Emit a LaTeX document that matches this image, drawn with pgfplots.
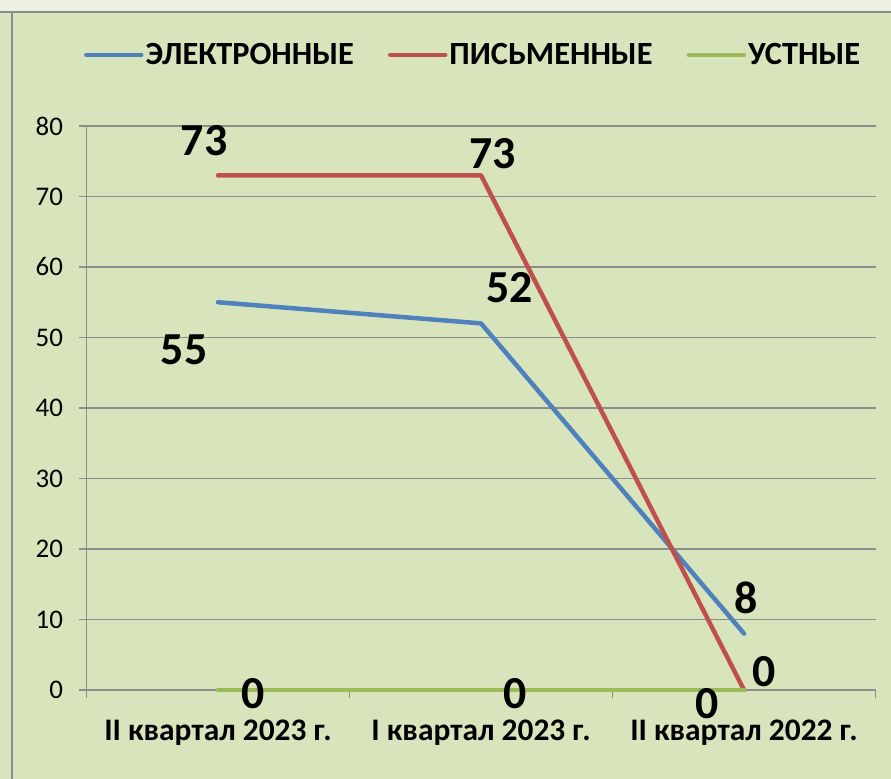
\documentclass[border=0pt]{standalone}
\usepackage{fontspec}
\setmainfont{Carlito}
\usepackage{pgfplots}
\usepackage{pgfplotstable}
\pgfplotsset{compat=1.18}
\definecolor{bg}{HTML}{D8E4BC}
\definecolor{topbg}{HTML}{EEF1E2}
\definecolor{gridgray}{HTML}{8C8C8C}
\definecolor{cblue}{HTML}{4F81BD}
\definecolor{cred}{HTML}{C0504D}
\definecolor{cgreen}{HTML}{9BBB59}
\pgfplotstableread{
x y dx dy
0 55 -34 -48
1 52 29 36
2 8 2 36
}\elec
\pgfplotstableread{
x y dx dy
0 73 -14 35
1 73 12 22
2 0 20 18
}\pism
\pgfplotstableread{
x y dx dy
0 0 35 -4
1 0 34 -4
2 0 -37 -14
}\ust
\pgfplotsset{lbl/.style={
  nodes near coords, point meta=explicit symbolic,
  visualization depends on={\thisrow{dx}\as\dx},
  visualization depends on={\thisrow{dy}\as\dy},
  nodes near coords style={anchor=center, xshift=\dx, yshift=\dy,
     font=\fontsize{46}{50}\selectfont\bfseries, text=black}}}
\begin{document}
\begin{tikzpicture}[x=1bp,y=1bp]
\useasboundingbox (0,0) rectangle (891,779);
\fill[topbg] (0,0) rectangle (891,779);
\fill[bg] (0,0) rectangle (891,767);
\draw[gridgray, line width=1.5bp] (0,767) -- (891,767);
\draw[gridgray, line width=1.5bp] (12,0) -- (12,767);
\begin{axis}[
  at={(86.5bp,89bp)}, anchor=south west,
  scale only axis, width=789bp, height=564bp,
  xmin=-0.5, xmax=2.5, ymin=0, ymax=80,
  axis x line=bottom, axis y line=left,
  axis line style={draw=gridgray, line width=1.5bp, -},
  ytick={0,10,...,80},
  ymajorgrids, grid style={draw=gridgray, line width=1.5bp},
  xtick={-0.5,0.5,1.5,2.5}, xticklabels={},
  extra x ticks={0,1,2},
  extra x tick labels={II квартал 2023 г., I квартал 2023 г., II квартал 2022 г.},
  extra x tick style={major tick length=0pt, grid=none,
     xticklabel style={font=\fontsize{31.5}{34}\selectfont\bfseries, yshift=-26bp}},
  tick align=outside, major tick length=8bp,
  tick style={draw=gridgray, line width=1.5bp},
  yticklabel style={font=\fontsize{27}{30}\selectfont, xshift=-12bp},
  /pgf/number format/assume math mode=true,
  legend columns=3,
  legend style={draw=none, fill=none, at={(0.4900,1.126)}, anchor=center,
     font=\fontsize{32.5}{36}\selectfont\bfseries,
     /tikz/every even column/.append style={column sep=32bp},
     nodes={inner xsep=2bp}},
  legend image code/.code={\draw[#1, line cap=round] (0bp,0bp) -- (55bp,0bp);},
  clip=false,
]
\addplot[cblue, line width=4.5bp, line cap=round, line join=round, lbl]
  table[x=x, y=y, meta=y] {\elec};
\addlegendentry{ЭЛЕКТРОННЫЕ}
\addplot[cred, line width=4.5bp, line cap=round, line join=round, lbl]
  table[x=x, y=y, meta=y] {\pism};
\addlegendentry{ПИСЬМЕННЫЕ}
\addplot[cgreen, line width=4.5bp, line cap=round, line join=round, lbl]
  table[x=x, y=y, meta=y] {\ust};
\addlegendentry{УСТНЫЕ}
\end{axis}
\end{tikzpicture}
\end{document}
